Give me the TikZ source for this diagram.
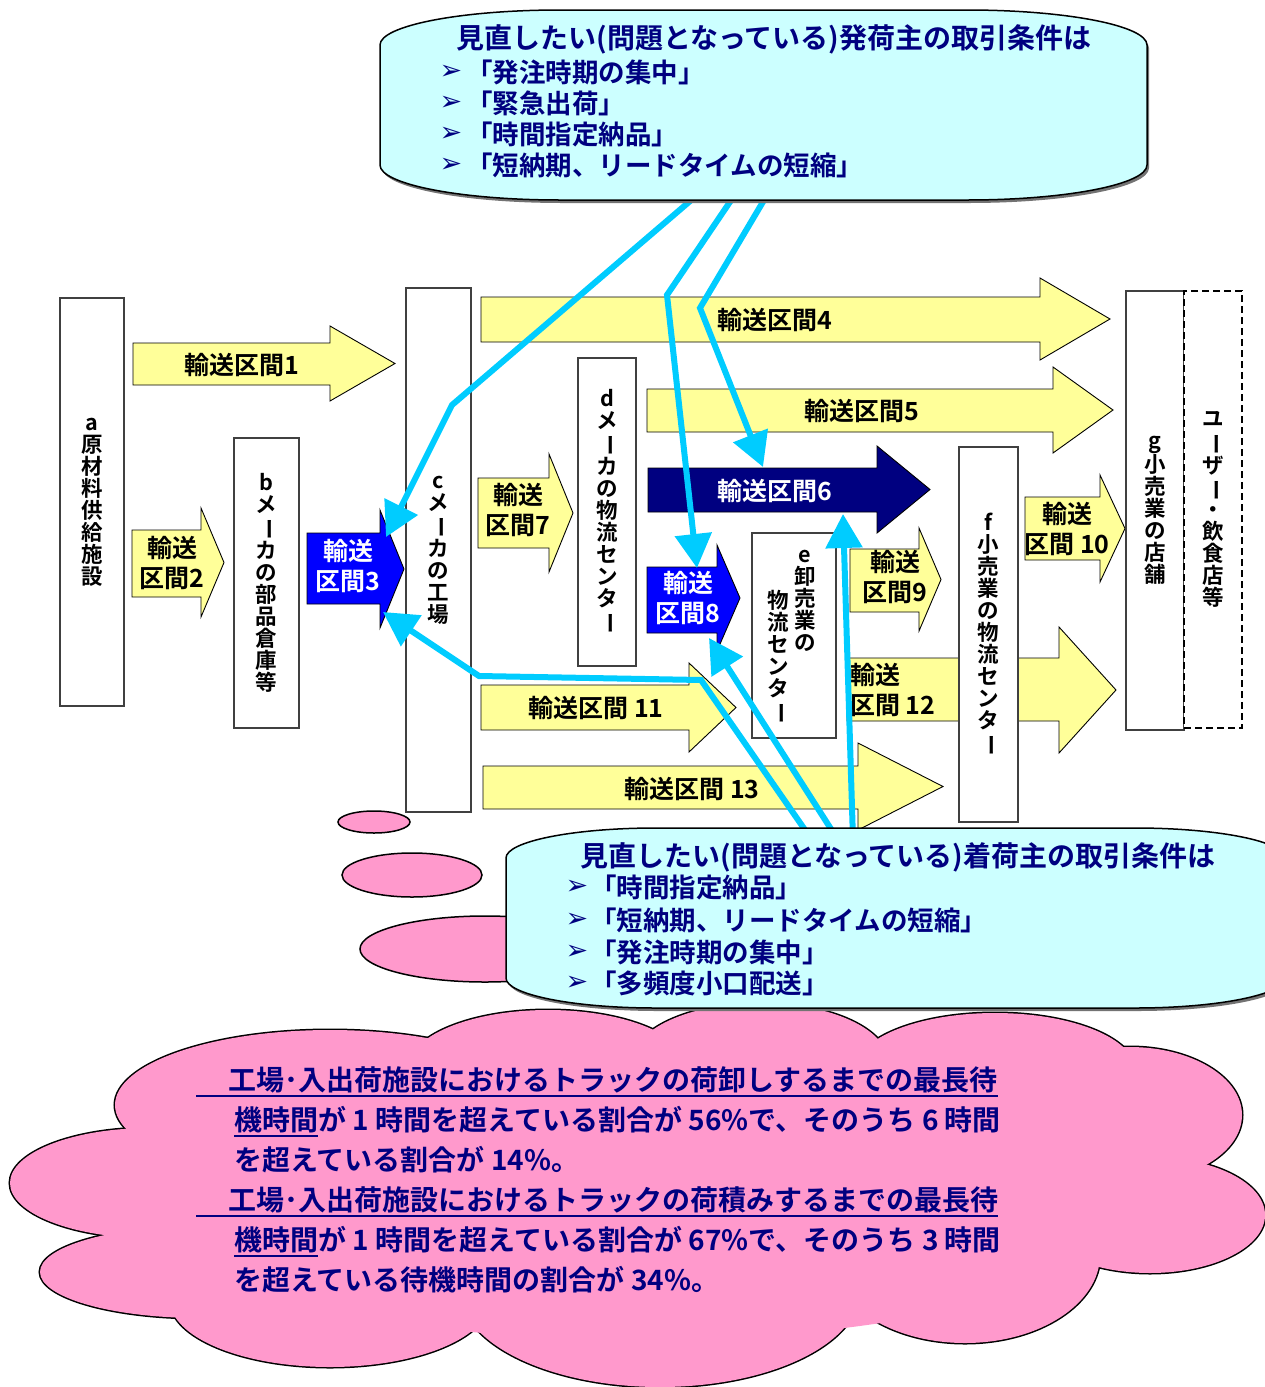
\documentclass[tikz,border=0pt]{standalone}
\usepackage{fontspec}
\setmainfont{Noto Sans CJK JP}[BoldFont={* Bold}]
\newfontfamily\djv{DejaVu Sans}
\usetikzlibrary{arrows.meta}
\definecolor{cyanfill}{HTML}{CCFFFF}
\definecolor{pinkfill}{HTML}{FF99CC}
\definecolor{yel}{HTML}{FFFF99}
\definecolor{bblue}{HTML}{0000FF}
\definecolor{nvy}{HTML}{000080}
\definecolor{lblue}{HTML}{00CCFF}
\definecolor{txtnavy}{HTML}{000080}
\newcommand\myvb{\rotatebox[origin=c]{-90}{ー}}
\newcommand\myvf{\fontsize{21.5}{22}\selectfont\bfseries}
\newcommand\myaf{\fontsize{25}{30}\selectfont\bfseries}
\newcommand\mycf{\fontsize{28}{40}\selectfont\bfseries}
\newcommand\mytf{\fontsize{28}{32}\selectfont\bfseries}
\newcommand\mybf{\fontsize{26.5}{30}\selectfont\bfseries}
\newcommand\mybulf{\djv\fontsize{27}{30}\selectfont}
% block arrow: style, x0, xbase, xtip, shaft top, shaft bottom, head top, head bottom
\newcommand\bArrow[8]{\draw[#1] (#2,#5) -- (#3,#5) -- (#3,#7) -- (#4,{(#7+#8)/2}) -- (#3,#8) -- (#3,#6) -- (#2,#6) -- cycle;}
% rounded callout: style, x1, y1, x2, y2, rx, ry
\newcommand\callout[7]{%
\path[#1] ({#2},{#3+#7}) .. controls ({#2},{#3+0.448*#7}) and ({#2+0.448*#6},{#3}) .. ({#2+#6},{#3})
 -- ({#4-#6},{#3}) .. controls ({#4-0.448*#6},{#3}) and ({#4},{#3+0.448*#7}) .. ({#4},{#3+#7})
 -- ({#4},{#5-#7}) .. controls ({#4},{#5-0.448*#7}) and ({#4-0.448*#6},{#5}) .. ({#4-#6},{#5})
 -- ({#2+#6},{#5}) .. controls ({#2+0.448*#6},{#5}) and ({#2},{#5-0.448*#7}) .. ({#2},{#5-#7}) -- cycle;}
\tikzset{
  box/.style={draw=black!75, line width=1.2pt, fill=white, font=\myvf, align=center, inner sep=0pt},
  yarr/.style={draw=black, line width=0.9pt, fill=yel},
  barr/.style={draw=black, line width=0.9pt, fill=bblue},
  narr/.style={draw=black, line width=0.9pt, fill=nvy},
  vlab/.style={font=\myvf, align=center, inner sep=0pt},
  alab/.style={font=\myaf, align=center, inner sep=0pt},
  conn/.style={draw=lblue, line width=6pt, -{Triangle[length=34pt 0 0, width=36pt 0 0]}},
  ctxt/.style={font=\mycf, text=txtnavy, anchor=base west, inner sep=0pt},
  ul/.style={draw=txtnavy, line width=1.6pt},
  bub/.style={draw=black, line width=1.5pt, fill=pinkfill},
  callbox/.style={draw=black, line width=1.5pt, fill=cyanfill},
  callshadow/.style={fill=black!55},
  ttl/.style={font=\mytf, text=txtnavy, inner sep=0pt},
  btxt/.style={font=\mybf, text=txtnavy, inner sep=0pt, anchor=west},
  bul/.style={font=\mybulf, text=txtnavy, inner sep=0pt},
}
\begin{document}
\begin{tikzpicture}[x=1pt,y=-1pt]
\useasboundingbox (0,0) rectangle (1265,1387);
\fill[white] (0,0) rectangle (1265,1387);

% small thought bubbles
\draw[bub] (374,822) ellipse [x radius=36, y radius=11];
\draw[bub] (412,875) ellipse [x radius=70, y radius=22];
\draw[bub] (485,949) ellipse [x radius=125, y radius=33];

% cloud
\foreach \cx/\cy/\rx/\ry in {330/1105/215/75, 548/1068/140/58, 760/1062/128/59, 995/1070/140/57, 1130/1115/112/68, 1150/1215/115/58, 965/1255/135/88, 660/1290/200/97, 330/1300/160/67, 200/1272/160/46, 150/1183/140/55}
  \draw[black, line width=3pt] (\cx,\cy) ellipse [x radius=\rx, y radius=\ry];
\foreach \cx/\cy/\rx/\ry in {330/1105/215/75, 548/1068/140/58, 760/1062/128/59, 995/1070/140/57, 1130/1115/112/68, 1150/1215/115/58, 965/1255/135/88, 660/1290/200/97, 330/1300/160/67, 200/1272/160/46, 150/1183/140/55, 640/1190/520/150}
  \fill[pinkfill] (\cx,\cy) ellipse [x radius=\rx, y radius=\ry];

% cloud text
\node[ctxt] (C1) at (228,1090) {工場･入出荷施設におけるトラックの荷卸しするまでの最長待};
\node[ctxt] (C2a) at (234,1130) {機時間};
\node[ctxt] (C2b) at (C2a.base east) {が 1 時間を超えている割合が 56\%で、そのうち 6 時間};
\node[ctxt] (C3) at (234,1170) {を超えている割合が 14\%。};
\node[ctxt] (C4) at (228,1210) {工場･入出荷施設におけるトラックの荷積みするまでの最長待};
\node[ctxt] (C5a) at (234,1250) {機時間};
\node[ctxt] (C5b) at (C5a.base east) {が 1 時間を超えている割合が 67\%で、そのうち 3 時間};
\node[ctxt] (C6) at (234,1290) {を超えている待機時間の割合が 34\%。};
\draw[ul] ([yshift=-6pt]C1.base west) ++(-32,0) -- ([yshift=-6pt]C1.base east);
\draw[ul] ([yshift=-6pt]C2a.base west) -- ([yshift=-6pt]C2a.base east);
\draw[ul] ([yshift=-6pt]C4.base west) ++(-32,0) -- ([yshift=-6pt]C4.base east);
\draw[ul] ([yshift=-6pt]C5a.base west) -- ([yshift=-6pt]C5a.base east);

% block arrows
\bArrow{yarr}{133}{330}{395}{343}{385}{326}{401}
\bArrow{yarr}{132}{201}{224}{530}{597}{508}{617}
\bArrow{barr}{307}{380}{404}{533}{604}{510}{628}
\bArrow{yarr}{481}{1040}{1110}{297}{342}{278}{360}
\bArrow{yarr}{647}{1053}{1113}{389}{432}{367}{453}
\bArrow{narr}{648}{877}{930}{468}{512}{446}{533}
\bArrow{yarr}{478}{549}{573}{478}{548}{454}{572}
\bArrow{barr}{647}{717}{740}{567}{633}{545}{651}
\bArrow{yarr}{850}{919}{941}{549}{612}{528}{631}
\bArrow{yarr}{1025}{1100}{1125}{497}{560}{475}{582}
\bArrow{yarr}{481}{689}{736}{685}{730}{663}{752}
\bArrow{yarr}{847}{1059}{1116}{658}{721}{627}{753}
\bArrow{yarr}{483}{858}{943}{766}{809}{743}{830}

\node[alab] (L1) at (242,365) {輸送区間1};
\node[alab] (L2) at (172,563) {輸送\\区間2};
\node[alab,text=white] (L3) at (348,566) {輸送\\区間3};
\node[alab] (L4) at (775,320) {輸送区間4};
\node[alab] (L5) at (862,411) {輸送区間5};
\node[alab,text=white] (L6) at (775,491) {輸送区間6};
\node[alab] (L7) at (518,510) {輸送\\区間7};
\node[alab,text=white] (L8) at (688,598) {輸送\\区間8};
\node[alab] (L9) at (895,577) {輸送\\区間9};
\node[alab] (L10) at (1067,529) {輸送\\区間 10};
\node[alab] (L11) at (596,708) {輸送区間 11};
\node[alab,align=left,anchor=west] (L12) at (850,690) {輸送\\区間 12};
\node[alab] (L13) at (692,789) {輸送区間 13};

% facility boxes
\node[box, minimum width=64pt, minimum height=408pt] (A) at (92,502) {a\\原\\材\\料\\供\\給\\施\\設};
\node[box, minimum width=65pt, minimum height=290pt] (B) at (266.5,583) {b\\メ\\\myvb\\カ\\の\\部\\品\\倉\\庫\\等};
\node[box, minimum width=65pt, minimum height=524pt] (Cc) at (438.5,550) {c\\メ\\\myvb\\カ\\の\\工\\場};
\node[box, minimum width=58pt, minimum height=308pt] (D) at (607,512) {d\\メ\\\myvb\\カ\\の\\物\\流\\セ\\ン\\タ\\\myvb};
\node[box, minimum width=84pt, minimum height=205pt] (E) at (794,635.5) {};
\node[vlab, anchor=north] (Er) at (805,550) {e\\卸\\売\\業\\の};
\node[vlab, anchor=north] (El) at (778,590) {物\\流\\セ\\ン\\タ\\\myvb};
\node[box, minimum width=59pt, minimum height=375pt] (F) at (988.5,634.5) {f\\小\\売\\業\\の\\物\\流\\セ\\ン\\タ\\\myvb};
\node[box, minimum width=58pt, minimum height=439pt] (G) at (1155,510.5) {g\\小\\売\\業\\の\\店\\舗};
\node[box, draw=black, line width=2pt, dash pattern=on 7pt off 4pt, minimum width=58pt, minimum height=437pt] (U) at (1213,509.5) {ユ\\\myvb\\ザ\\\myvb\\・\\飲\\食\\店\\等};

% connectors (light blue)
\coordinate (a0) at (703,190); \coordinate (a1) at (452,405); \coordinate (a2) at (386,537);
\coordinate (b0) at (738,190); \coordinate (b1) at (667,295); \coordinate (b2) at (697,568);
\coordinate (c0) at (770,190); \coordinate (c1) at (700,308); \coordinate (c2) at (763,467);
\coordinate (d0) at (812,840); \coordinate (d1) at (701,680); \coordinate (d2) at (479,676); \coordinate (d3) at (383,612);
\coordinate (e0) at (838,840); \coordinate (e1) at (709,638);
\coordinate (f0) at (853,840); \coordinate (f1) at (843,514);
\draw[conn] (a0) -- (a1) -- (a2);
\draw[conn] (b0) -- (b1) -- (b2);
\draw[conn] (c0) -- (c1) -- (c2);
\draw[conn] (d0) -- (d1) -- (d2) -- (d3);
\draw[conn] (e0) -- (e1);
\draw[conn] (f0) -- (f1);

% top callout
\callout{callshadow, shift={(2,3)}}{380}{10}{1147}{200}{180}{35}
\callout{callbox}{380}{10}{1147}{200}{180}{35}
\node[ttl] (T0) at (774,39) {見直したい(問題となっている)発荷主の取引条件は};
\foreach \i/\y/\t in {1/72/「発注時期の集中」, 2/103/「緊急出荷」, 3/134/「時間指定納品」, 4/165/「短納期、リードタイムの短縮」}{
  \node[bul] (Tb\i) at (451,\y) {➢};
  \node[btxt] (Tt\i) at (466,\y) {\t};
}

% bottom callout
\callout{callshadow, shift={(2,3)}}{506}{828}{1285}{1008}{150}{30}
\callout{callbox}{506}{828}{1285}{1008}{150}{30}
\node[ttl] (B0) at (898,857) {見直したい(問題となっている)着荷主の取引条件は};
\foreach \i/\y/\t in {1/887/「時間指定納品」, 2/920/「短納期、リードタイムの短縮」, 3/952/「発注時期の集中」, 4/983/「多頻度小口配送」}{
  \node[bul] (Bb\i) at (577,\y) {➢};
  \node[btxt] (Bt\i) at (590,\y) {\t};
}
\end{tikzpicture}
\end{document}
